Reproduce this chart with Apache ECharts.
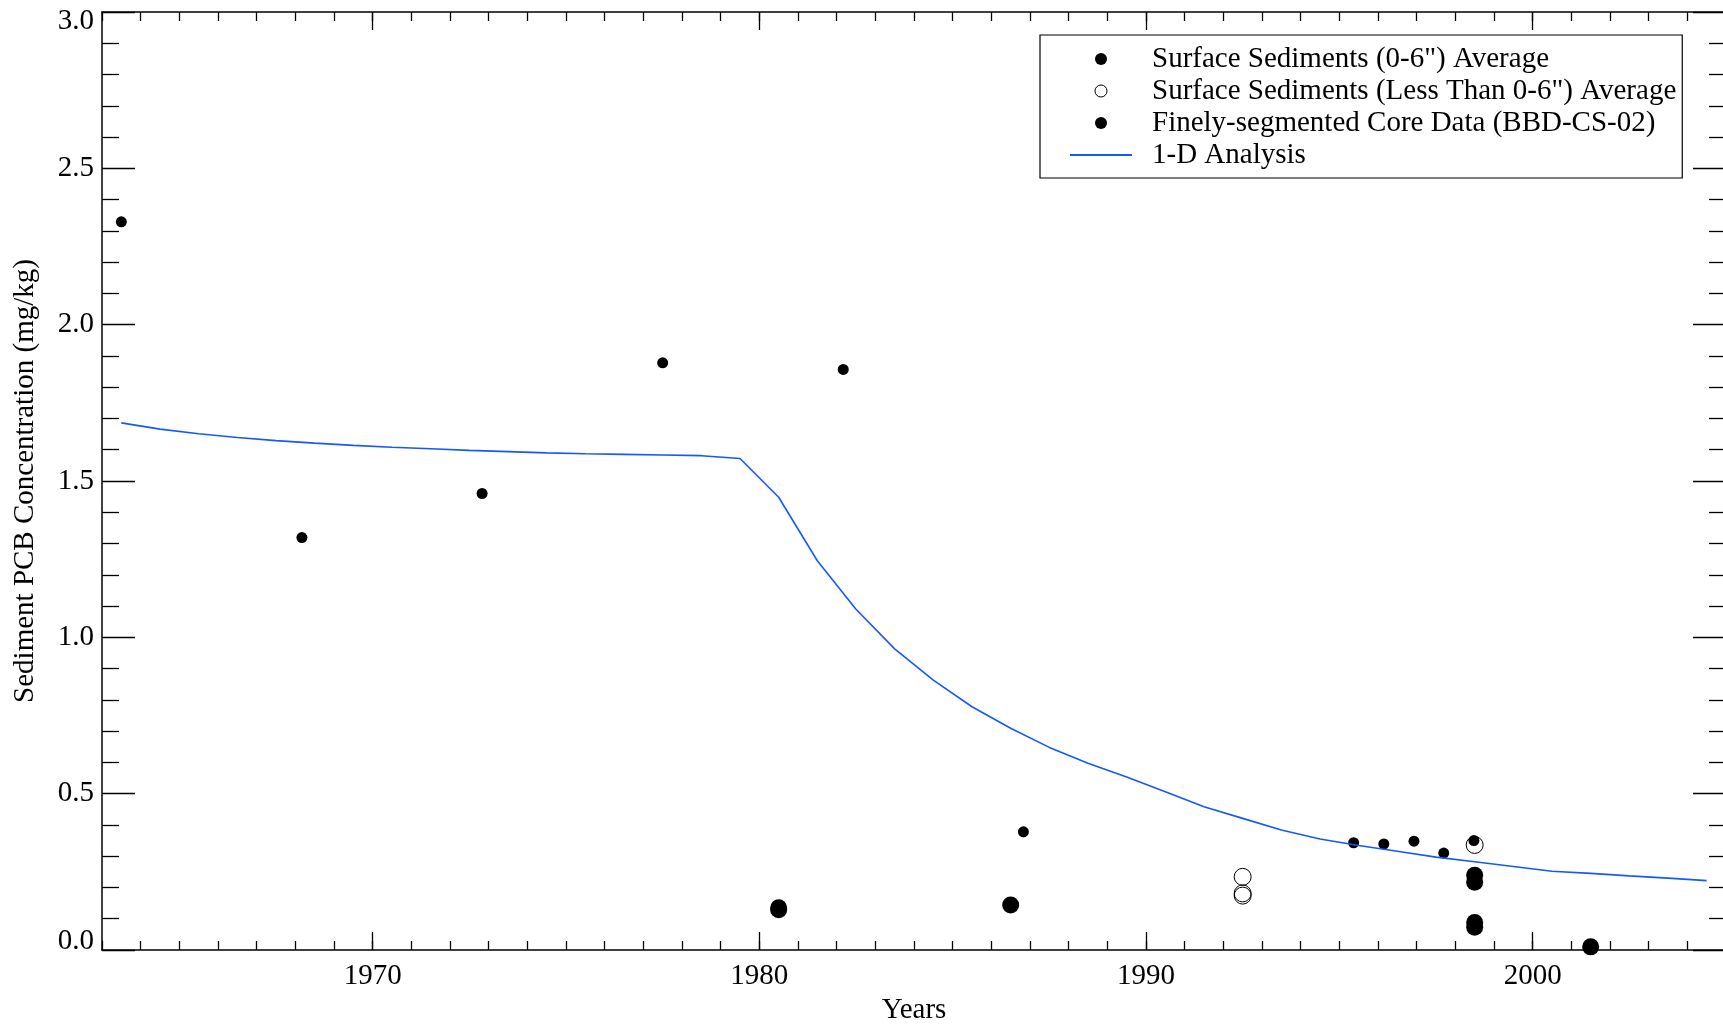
<!DOCTYPE html>
<html>
<head>
<meta charset="utf-8">
<script src="https://cdn.jsdelivr.net/npm/echarts@6/dist/echarts.min.js"></script>
<style>
html, body { margin: 0; padding: 0; background: #fff; }
#chart { width: 1723px; height: 1024px; }
</style>
</head>
<body>
<div id="chart"></div>
<script>
// surface sediments (0-6") averages
const filledYears = [1980.5, 1980.5, 1986.5, 1998.5, 1998.5, 1998.5, 1998.5, 2001.5];
const filledValues = [0.135, 0.129, 0.144, 0.239, 0.217, 0.088, 0.073, 0.010];

// surface sediments (less than 0-6") averages
const openYears = [1992.5, 1992.5, 1992.5, 1998.5];
const openValues = [0.234, 0.181, 0.174, 0.336];

// finely-segmented core BBD-CS-02
const coreYears = [1963.5, 1968.17, 1972.83, 1977.5, 1982.17, 1986.83, 1995.37, 1996.15, 1996.93, 1997.7, 1998.48];
const coreValues = [2.329, 1.319, 1.460, 1.878, 1.857, 0.378, 0.343, 0.339, 0.348, 0.310, 0.350];

// 1-D model
const modelYears = [1963.5, 1964.5, 1965.5, 1966.5, 1967.5, 1968.5, 1969.5, 1970.5, 1971.5, 1972.5,
	1973.5, 1974.5, 1975.5, 1976.5, 1977.5, 1978.5, 1979.5, 1980.5, 1981.5, 1982.5,
	1983.5, 1984.5, 1985.5, 1986.5, 1987.5, 1988.5, 1989.5, 1990.5, 1991.5, 1992.5,
	1993.5, 1994.5, 1995.5, 1996.5, 1997.5, 1998.5, 1999.5, 2000.5, 2001.5, 2002.5,
	2003.5, 2004.5];
const modelValues = [1.686, 1.666, 1.651, 1.639, 1.629, 1.621, 1.614, 1.608, 1.603, 1.598,
	1.594, 1.590, 1.587, 1.585, 1.583, 1.581, 1.572, 1.448, 1.245, 1.090,
	0.963, 0.863, 0.778, 0.709, 0.648, 0.597, 0.553, 0.506, 0.458, 0.421,
	0.384, 0.355, 0.334, 0.316, 0.297, 0.282, 0.267, 0.252, 0.245, 0.237,
	0.230, 0.222];

const xMajorTicks = [1970, 1980, 1990, 2000];

const seriesNames = [
	'Surface Sediments (0-6") Average',
	'Surface Sediments (Less Than 0-6") Average',
	'Finely-segmented Core Data (BBD-CS-02)',
	'1-D Analysis'
];

const pairs = (xs, ys) => xs.map((x, i) => [x, ys[i]]);

const font = 'Liberation Serif';
const fs = 29;
const black = '#000';

let chart = echarts.init(document.getElementById('chart'), null, { renderer: 'canvas' });

// two identical grids: grid 0 holds the data + decade ticks, grid 1 only the yearly ticks
const gridBox = { left: 102, top: 12, right: -3, bottom: 74, containLabel: false, outerBoundsMode: 'none' };
const tickStyle = { color: black, width: 1.3 };
const lineStyle = { color: black, width: 1.5 };

const xBase = {
	type: 'value',
	min: 1963,
	max: 2005,
	splitLine: { show: false },
	axisLine: { show: false }
};

let option = {
	animation: false,
	backgroundColor: '#fff',
	textStyle: { fontFamily: font, color: black },
	grid: [Object.assign({}, gridBox), Object.assign({}, gridBox)],
	legend: {
		orient: 'vertical',
		left: 1040,
		top: 35,
		padding: [8, 6, 7, 29],
		itemGap: 0,
		itemWidth: 62,
		itemHeight: 12,
		borderColor: black,
		borderWidth: 1.2,
		backgroundColor: '#fff',
		selectedMode: false,
		textStyle: {
			fontFamily: font,
			fontSize: fs,
			color: black,
			lineHeight: 32,
			padding: [0, 0, 0, 15]
		},
		data: [
			{ name: seriesNames[0], icon: 'circle' },
			{ name: seriesNames[1], icon: 'circle', itemStyle: { borderWidth: 1 } },
			{ name: seriesNames[2], icon: 'circle' },
			{ name: seriesNames[3], itemStyle: { opacity: 0 } }
		]
	},
	xAxis: [
		Object.assign({}, xBase, {
			gridIndex: 0,
			position: 'bottom',
			name: 'Years',
			nameLocation: 'middle',
			nameGap: 43,
			nameTextStyle: { fontFamily: font, fontSize: fs, color: black },
			axisLine: { show: true, onZero: false, lineStyle: lineStyle },
			axisTick: { inside: true, length: 18, lineStyle: tickStyle, customValues: xMajorTicks },
			axisLabel: {
				customValues: xMajorTicks,
				margin: 12,
				fontFamily: font,
				fontSize: fs,
				color: black,
				formatter: v => String(v)
			}
		}),
		Object.assign({}, xBase, {
			gridIndex: 0,
			position: 'top',
			axisLine: { show: true, onZero: false, lineStyle: lineStyle },
			axisTick: { inside: true, length: 18, lineStyle: tickStyle, customValues: xMajorTicks },
			axisLabel: { show: false }
		}),
		Object.assign({}, xBase, {
			gridIndex: 1,
			position: 'bottom',
			interval: 1,
			axisTick: { inside: true, length: 9, lineStyle: tickStyle },
			axisLabel: { show: false }
		}),
		Object.assign({}, xBase, {
			gridIndex: 1,
			position: 'top',
			interval: 1,
			axisTick: { inside: true, length: 9, lineStyle: tickStyle },
			axisLabel: { show: false }
		})
	],
	yAxis: [
		{
			gridIndex: 0,
			type: 'value',
			position: 'left',
			min: 0,
			max: 3,
			interval: 0.5,
			name: 'Sediment PCB Concentration (mg/kg)',
			nameLocation: 'middle',
			nameGap: 62,
			nameTextStyle: { fontFamily: font, fontSize: fs, color: black },
			splitLine: { show: false },
			axisLine: { show: true, onZero: false, lineStyle: lineStyle },
			axisTick: { inside: true, length: 33, lineStyle: tickStyle },
			minorTick: { show: true, splitNumber: 5, length: 17, lineStyle: tickStyle },
			axisLabel: {
				margin: 8,
				fontFamily: font,
				fontSize: fs,
				lineHeight: 18,
				color: black,
				formatter: v => v.toFixed(1),
				verticalAlignMinLabel: 'bottom',
				verticalAlignMaxLabel: 'top'
			}
		},
		{
			gridIndex: 0,
			type: 'value',
			position: 'right',
			min: 0,
			max: 3,
			interval: 0.5,
			splitLine: { show: false },
			axisLine: { show: true, onZero: false, lineStyle: lineStyle },
			axisTick: { inside: true, length: 33, lineStyle: tickStyle },
			minorTick: { show: true, splitNumber: 5, length: 17, lineStyle: tickStyle },
			axisLabel: { show: false }
		},
		{
			gridIndex: 1,
			type: 'value',
			min: 0,
			max: 3,
			show: false
		}
	],
	series: [
		{
			name: seriesNames[0],
			type: 'scatter',
			xAxisIndex: 0,
			yAxisIndex: 0,
			symbol: 'circle',
			symbolSize: 17,
			itemStyle: { color: black, opacity: 1 },
			data: pairs(filledYears, filledValues)
		},
		{
			name: seriesNames[1],
			type: 'scatter',
			xAxisIndex: 0,
			yAxisIndex: 0,
			symbol: 'circle',
			symbolSize: 17,
			itemStyle: { color: 'rgba(0,0,0,0)', borderColor: black, borderWidth: 1, opacity: 1 },
			data: pairs(openYears, openValues)
		},
		{
			name: seriesNames[2],
			type: 'scatter',
			xAxisIndex: 0,
			yAxisIndex: 0,
			symbol: 'circle',
			symbolSize: 11,
			itemStyle: { color: black, opacity: 1 },
			data: pairs(coreYears, coreValues)
		},
		{
			name: seriesNames[3],
			type: 'line',
			xAxisIndex: 0,
			yAxisIndex: 0,
			symbol: 'none',
			lineStyle: { color: '#1458ff', width: 1.6 },
			data: pairs(modelYears, modelValues)
		}
	]
};

chart.setOption(option);
</script>
</body>
</html>
